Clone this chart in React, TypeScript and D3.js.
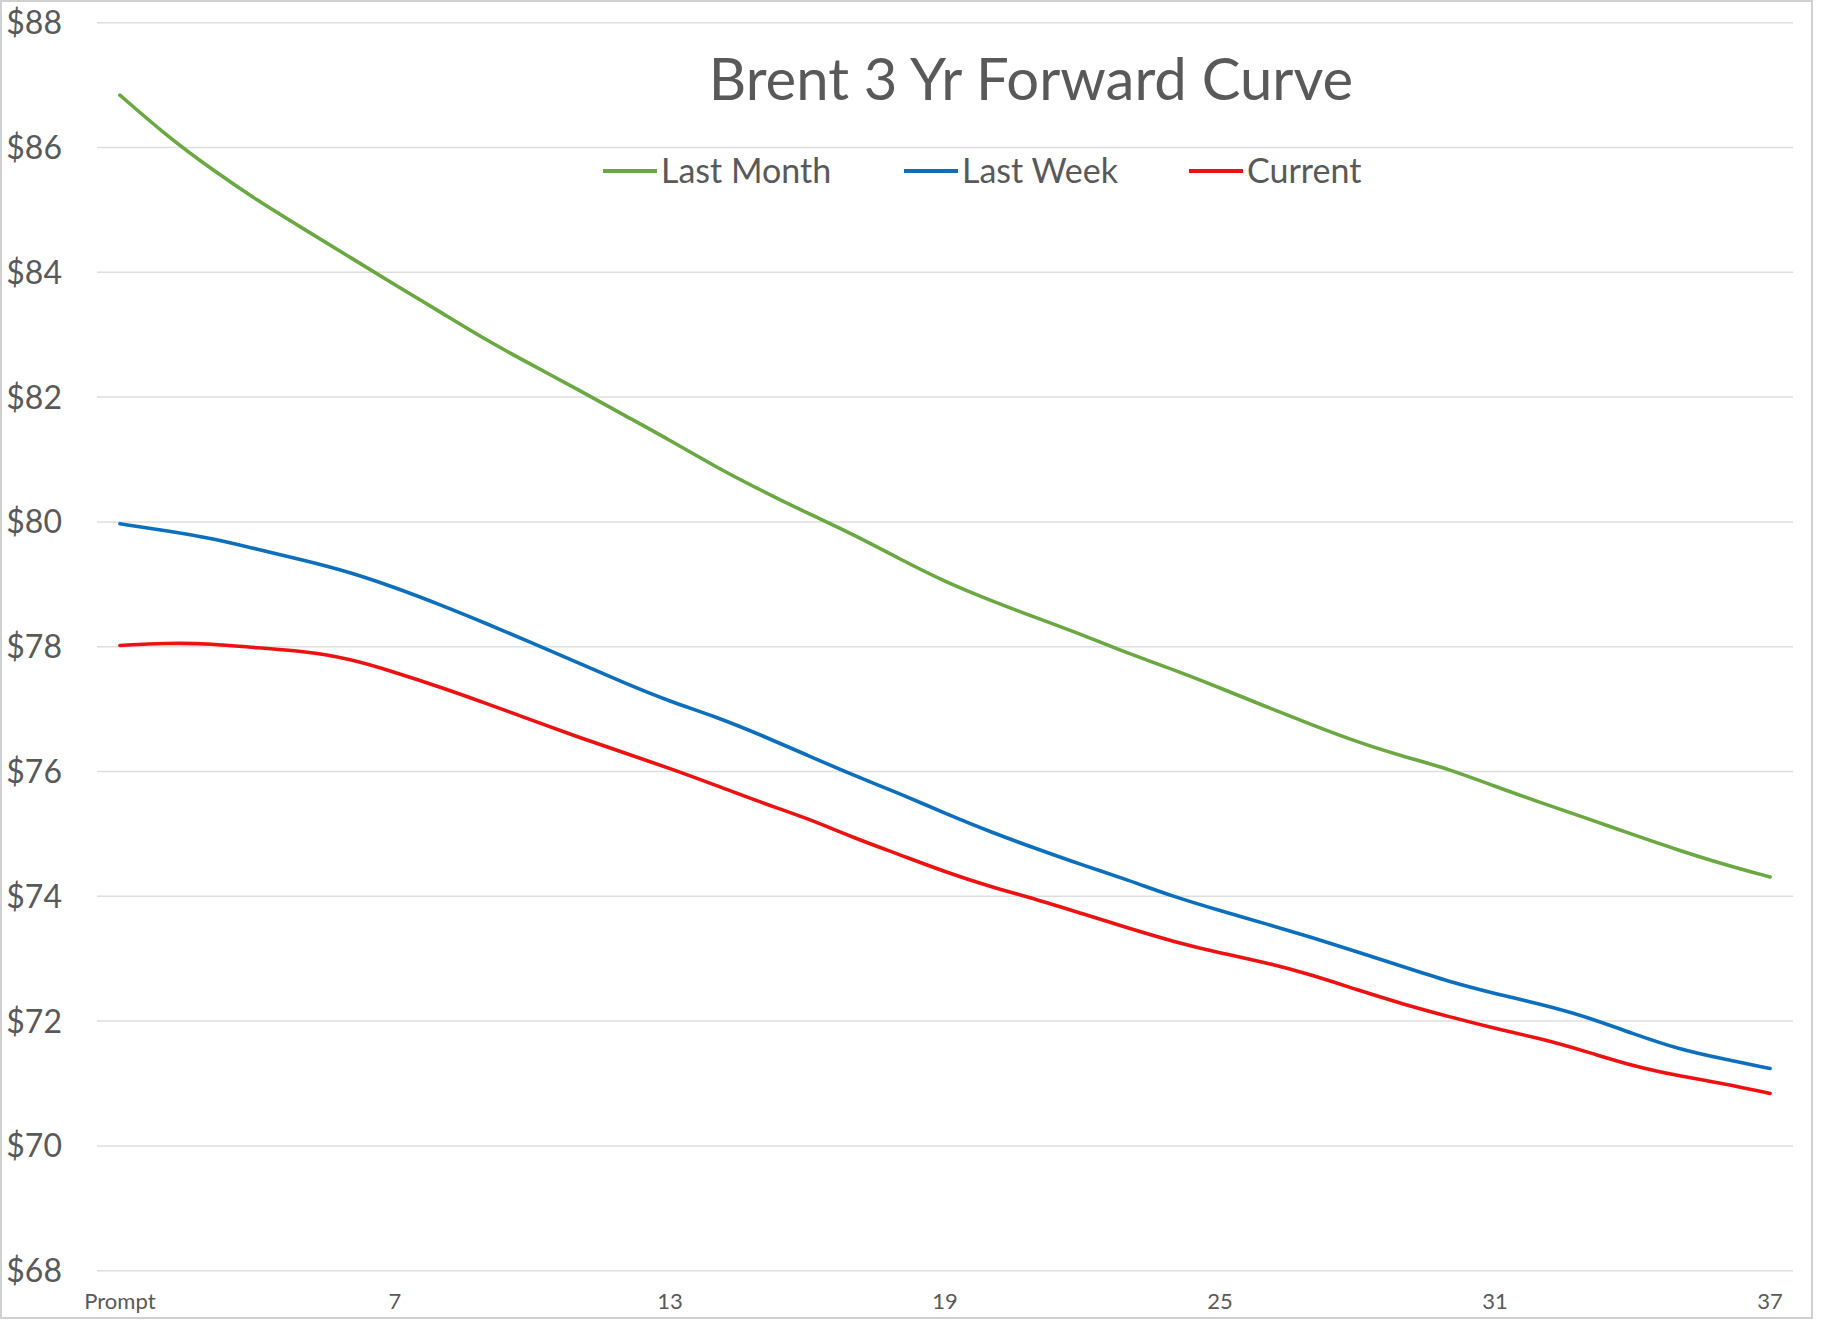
import React, { useRef, useEffect } from 'react';
import * as d3 from 'd3';

// months on the curve, first one is the prompt month
const months = d3.range(1, 38).map((m) => (m === 1 ? 'Prompt' : String(m)));
const tickLabels = ['Prompt', '7', '13', '19', '25', '31', '37'];
const yTicks = [68, 70, 72, 74, 76, 78, 80, 82, 84, 86, 88];

const lastMonth = [86.84, 86.2, 85.65, 85.15, 84.7, 84.25, 83.8, 83.36, 82.91, 82.51, 82.12, 81.71, 81.31,
  80.88, 80.5, 80.14, 79.8, 79.41, 79.04, 78.74, 78.46, 78.19, 77.89, 77.63, 77.34,
  77.04, 76.75, 76.47, 76.24, 76.04, 75.76, 75.5, 75.25, 74.99, 74.74, 74.51, 74.31];
const lastWeek = [79.97, 79.86, 79.74, 79.56, 79.39, 79.2, 78.95, 78.67, 78.37, 78.06, 77.74, 77.42, 77.12,
  76.88, 76.58, 76.26, 75.94, 75.65, 75.33, 75.03, 74.76, 74.5, 74.26, 73.99, 73.77,
  73.56, 73.34, 73.11, 72.87, 72.63, 72.44, 72.27, 72.07, 71.8, 71.55, 71.39, 71.24];
const current = [78.02, 78.06, 78.05, 77.98, 77.93, 77.81, 77.59, 77.35, 77.09, 76.82, 76.55, 76.3, 76.05,
  75.78, 75.5, 75.25, 74.94, 74.67, 74.39, 74.15, 73.95, 73.72, 73.49, 73.27, 73.09,
  72.94, 72.74, 72.5, 72.27, 72.07, 71.88, 71.72, 71.51, 71.28, 71.12, 71.0, 70.84];

const seriesNames = ['Last Month', 'Last Week', 'Current'];
const seriesColors = ['#6aa842', '#0b6fbe', '#ee1111'];

const W = 1822;
const H = 1322;
const FONT = 'Lato, "Open Sans", sans-serif';
const TEXT = '#595959';

const App = () => {
  const ref = useRef<SVGSVGElement>(null);

  useEffect(() => {
    const svg = d3.select(ref.current);
    svg.selectAll('*').remove();

    const plot = { left: 97, right: 1793, top: 22.7, bottom: 1270.7 };

    const x = d3.scalePoint<string>().domain(months).range([plot.left, plot.right]).padding(0.5);
    const y = d3.scaleLinear().domain([68, 88]).range([plot.bottom, plot.top]);

    svg.append('rect')
      .attr('x', 1).attr('y', 1)
      .attr('width', 1811).attr('height', 1317)
      .attr('fill', '#fff')
      .attr('stroke', '#d0d0d0')
      .attr('stroke-width', 2);

    // gridlines
    svg.append('g')
      .selectAll('line')
      .data(yTicks)
      .enter()
      .append('line')
      .attr('x1', plot.left).attr('x2', plot.right)
      .attr('y1', (d) => y(d)).attr('y2', (d) => y(d))
      .attr('stroke', '#dedede')
      .attr('stroke-width', 1.5);

    // y labels
    svg.append('g')
      .selectAll('text')
      .data(yTicks)
      .enter()
      .append('text')
      .attr('x', 62)
      .attr('y', (d) => y(d))
      .attr('dy', '0.36em')
      .attr('text-anchor', 'end')
      .style('font-family', FONT)
      .style('font-size', '32px')
      .style('fill', TEXT)
      .text((d) => `$${d}`);

    // x labels
    svg.append('g')
      .selectAll('text')
      .data(tickLabels)
      .enter()
      .append('text')
      .attr('x', (d) => x(d) as number)
      .attr('y', 1301)
      .attr('dy', '0.36em')
      .attr('text-anchor', 'middle')
      .style('font-family', FONT)
      .style('font-size', '22px')
      .style('fill', TEXT)
      .text((d) => d);

    // smoothed lines like excel
    const line = d3.line<number>()
      .x((_, i) => x(months[i]) as number)
      .y((d) => y(d))
      .curve(d3.curveBasis);

    [lastMonth, lastWeek, current].forEach((vals, i) => {
      svg.append('path')
        .datum(vals)
        .attr('d', line)
        .attr('fill', 'none')
        .attr('stroke', seriesColors[i])
        .attr('stroke-width', 3.6)
        .attr('stroke-linecap', 'round')
        .attr('stroke-linejoin', 'round');
    });

    // title
    svg.append('text')
      .attr('x', 1031)
      .attr('y', 79)
      .attr('dy', '0.36em')
      .attr('text-anchor', 'middle')
      .style('font-family', FONT)
      .style('font-size', '58px')
      .style('fill', TEXT)
      .text('Brent 3 Yr Forward Curve');

    // legend
    const legendX = [603, 904, 1189];
    const legend = svg.append('g')
      .selectAll('g')
      .data(seriesNames)
      .enter()
      .append('g')
      .attr('transform', (_, i) => `translate(${legendX[i]},171)`);
    legend.append('line')
      .attr('x1', 0).attr('x2', 54)
      .attr('stroke', (_, i) => seriesColors[i])
      .attr('stroke-width', 4);
    legend.append('text')
      .attr('x', 58)
      .attr('dy', '0.36em')
      .style('font-family', FONT)
      .style('font-size', '34px')
      .style('fill', TEXT)
      .text((d) => d);
  }, []);

  return (
    <svg ref={ref} width={W} height={H} style={{ position: 'absolute', left: 0, top: 0 }} />
  );
};

export default App;
